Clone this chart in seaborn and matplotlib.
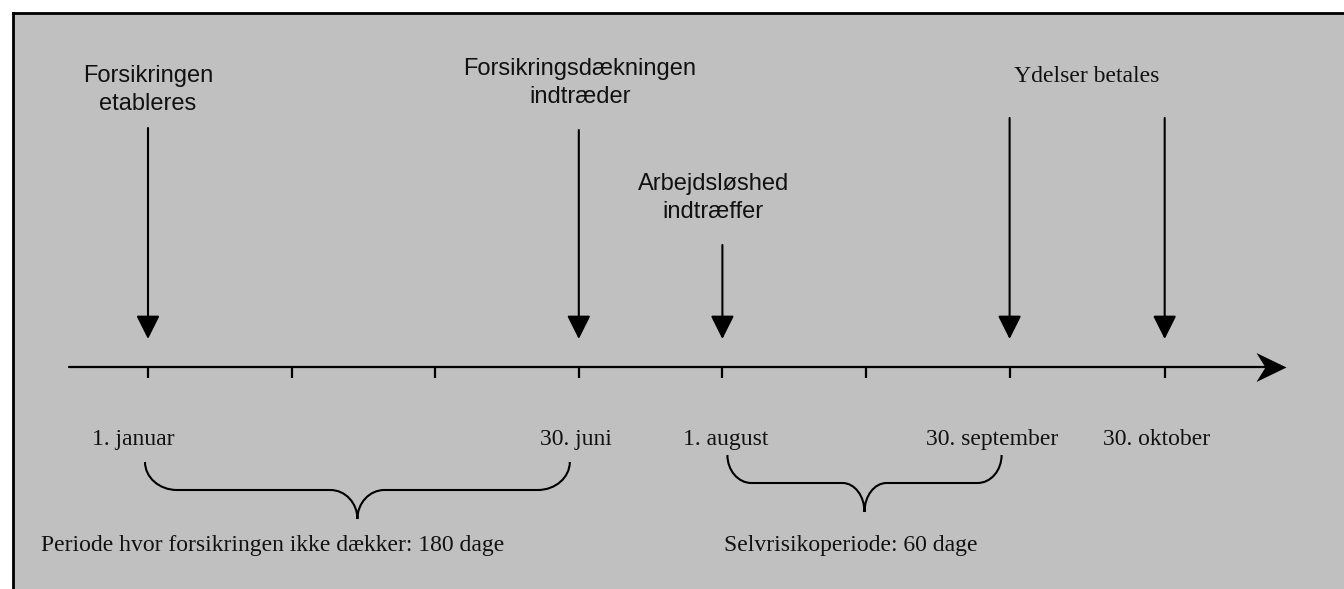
import matplotlib
matplotlib.use('Agg')
import matplotlib.pyplot as plt
from matplotlib.path import Path
from matplotlib.patches import PathPatch
import seaborn as sns

# schematic timeline: positions are "slots", not days
tick_slots = [0, 1, 2, 3, 4, 5, 6, 7.08]
date_labels = ['1. januar', '30. juni', '1. august', '30. september', '30. oktober']
date_slots = [0, 3, 4, 6, 7.08]

event_labels = ['Forsikringen\netableres', 'Forsikringsdækningen\nindtræder',
                'Arbejdsløshed\nindtræffer', 'Ydelser betales']
event_slots = [[0], [3], [4], [6, 7.08]]

period_labels = ['Periode hvor forsikringen ikke dækker', 'Selvrisikoperiode']
period_days = [180, 60]
period_slots = [(0, 3), (4, 6)]

# layout (pixels)
W, H = 1344, 589
PX = 143.6          # pixels per slot
X0 = 148            # pixel position of slot 0
FRAME = 13
AXIS_Y = 367
ARROW_TIP = 339
SANS = 'Liberation Sans'
SERIF = 'Liberation Serif'
FS = 17

event_fonts = [SANS, SANS, SANS, SERIF]
event_text_y = [90, 83, 198, 76]
event_text_dx = [0, 1, -9, 0]
event_arrow_top = [[128], [130], [245], [118, 118]]

date_dx = [-15, -3, 3, -17, -8]
DATE_BASE = 445

brace_dx = [(-3, -9), (5, -8)]
brace_top = [462, 455]
brace_depth = [28, 28]
brace_tip = [29, 29]
brace_r = [(32, 27), (24, 22)]
period_dx = [-107, 2]
PERIOD_BASE = 551

sns.set_theme(style='white')
plt.rcParams['font.family'] = [SERIF, 'DejaVu Sans']

fig = plt.figure(figsize=(W / 100, H / 100), dpi=100)
fig.patch.set_facecolor('white')
ax = fig.add_axes([FRAME / W, 0, (W - FRAME) / W, (H - FRAME) / H])
ax.set_facecolor('#c0c0c0')
ax.set_xlim((FRAME - X0) / PX, (W - X0) / PX)
ax.set_ylim(H, FRAME)
ax.set_xticks([])
ax.set_yticks([])
for side in ['right', 'bottom']:
    ax.spines[side].set_visible(False)
for side in ['top', 'left']:
    ax.spines[side].set_color('black')
    ax.spines[side].set_linewidth(2)


def px(d):
    return d / PX


# main time axis with notched arrow head
x_start, x_end = px(69 - X0), px(1286 - X0)
sns.lineplot(x=[x_start, x_end - px(20)], y=[AXIS_Y, AXIS_Y], color='black',
             linewidth=1.6, ax=ax)
head = Path([(0, 0), (-30, 14.5), (-21, 0), (-30, -14.5), (0, 0)],
            [Path.MOVETO, Path.LINETO, Path.LINETO, Path.LINETO, Path.CLOSEPOLY])
ax.plot([x_end], [AXIS_Y], marker=head, markersize=43.2, color='black',
        markeredgewidth=0)
ax.vlines(tick_slots, AXIS_Y, AXIS_Y + 11, color='black', linewidth=1.6)

# events with arrows pointing down to the timeline
for label, slots, font, ty, dx, tops in zip(event_labels, event_slots, event_fonts,
                                             event_text_y, event_text_dx, event_arrow_top):
    cx = sum(slots) / len(slots)
    ax.annotate(label, xy=(cx, ty), xytext=(dx, 0), textcoords='offset pixels',
                ha='center', va='center', fontsize=FS, family=[font, 'DejaVu Sans'],
                linespacing=1.33, color='#111111')
    for s, top in zip(slots, tops):
        ax.annotate('', xy=(s, ARROW_TIP), xytext=(s, top),
                    arrowprops=dict(arrowstyle='-|>,head_length=1.0,head_width=0.5',
                                    mutation_scale=14.4, lw=1.5, color='black',
                                    shrinkA=0, shrinkB=0))

# date labels
for label, s, dx in zip(date_labels, date_slots, date_dx):
    ax.annotate(label, xy=(s, DATE_BASE), xytext=(dx, 0), textcoords='offset pixels',
                ha='center', va='baseline', fontsize=FS, color='#111111')


# curly braces under the periods
def brace(x0, x1, top, depth, tip, r_end, r_mid):
    k = 0.5523
    yh = top + depth
    yb = yh + tip
    xm = (x0 + x1) / 2
    re, rm = px(r_end), px(r_mid)
    verts = [(x0, top), (x0, top + k * depth), (x0 + re - k * re, yh), (x0 + re, yh),
             (xm - rm, yh),
             (xm - rm + k * rm, yh), (xm, yb - k * tip), (xm, yb),
             (xm, yb - k * tip), (xm + rm - k * rm, yh), (xm + rm, yh),
             (x1 - re, yh),
             (x1 - re + k * re, yh), (x1, top + k * depth), (x1, top)]
    codes = [Path.MOVETO, Path.CURVE4, Path.CURVE4, Path.CURVE4, Path.LINETO,
             Path.CURVE4, Path.CURVE4, Path.CURVE4,
             Path.CURVE4, Path.CURVE4, Path.CURVE4, Path.LINETO,
             Path.CURVE4, Path.CURVE4, Path.CURVE4]
    return PathPatch(Path(verts, codes), fill=False, edgecolor='black', linewidth=1.5)


for (a, b), (da, db), top, dep, tip, (re, rm), label, days, tdx in zip(
        period_slots, brace_dx, brace_top, brace_depth, brace_tip, brace_r,
        period_labels, period_days, period_dx):
    ax.add_patch(brace(a + px(da), b + px(db), top, dep, tip, re, rm))
    ax.annotate(f'{label}: {days} dage', xy=(a, PERIOD_BASE), xytext=(tdx, 0),
                textcoords='offset pixels', ha='left', va='baseline', fontsize=FS,
                color='#111111')

plt.savefig('out.png', dpi=100, facecolor='white')
plt.close()
